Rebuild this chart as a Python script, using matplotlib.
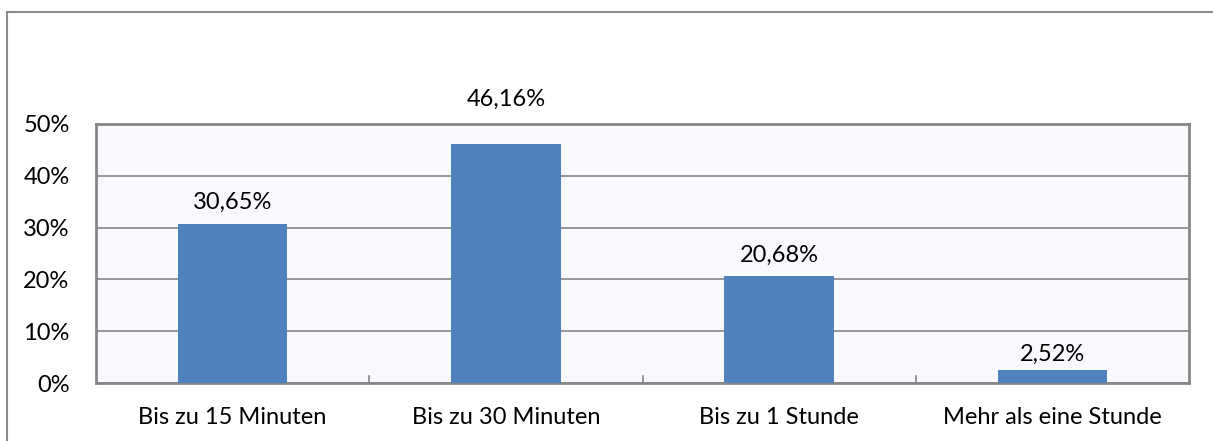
import matplotlib
matplotlib.use("Agg")
import matplotlib.pyplot as plt
from matplotlib.patches import Rectangle

categories = ["Bis zu 15 Minuten", "Bis zu 30 Minuten", "Bis zu 1 Stunde", "Mehr als eine Stunde"]
values = [30.65, 46.16, 20.68, 2.52]
labels = ["30,65%", "46,16%", "20,68%", "2,52%"]
yticks = [0, 10, 20, 30, 40, 50]
ytick_labels = ["0%", "10%", "20%", "30%", "40%", "50%"]

# style: gap (points) between bar top and label baseline
label_gap_pt = [10.8, 27.4, 10.3, 6.5]

plt.rcParams['font.family'] = ['Lato', 'DejaVu Sans']
FS = 17

W, H = 1213, 441
fig = plt.figure(figsize=(W/100, H/100), dpi=100)

# outer frame
fig.patches.append(Rectangle((7/W, -0.1), 1.2, (H-12)/H + 0.1, transform=fig.transFigure,
                             fill=False, edgecolor='#8c8c8c', linewidth=1.5))

left, right, top, bottom = 96, 1189, 124, 383
ax = fig.add_axes([left/W, 1-bottom/H, (right-left)/W, (bottom-top)/H])
ax.set_facecolor('#F7F9FD')

x = list(range(len(categories)))
ax.bar(x, values, width=0.4, color='#4F81BD', zorder=3)
for xi, v, lab, g in zip(x, values, labels, label_gap_pt):
    ax.annotate(lab, (xi, v), xytext=(0, g), textcoords='offset points',
                ha='center', va='baseline', fontsize=FS, color='#000000',
                annotation_clip=False)

ax.set_xlim(-0.5, len(categories)-0.5)
ax.set_ylim(0, 50)
ax.set_yticks(yticks)
ax.set_yticklabels(ytick_labels, fontsize=FS)
ax.set_xticks(x)
ax.set_xticklabels(categories, fontsize=FS)
ax.tick_params(axis='x', length=0, pad=17)
ax.tick_params(axis='y', length=0, pad=19)
ax.grid(axis='y', color='#868686', linewidth=1.2, zorder=0)
# category boundary ticks
for b in [0.5, 1.5, 2.5]:
    ax.plot([b, b], [0, 1.3], color='#868686', linewidth=1.2, zorder=4, clip_on=False)
for s in ax.spines.values():
    s.set_color('#868686')
    s.set_linewidth(2)

fig.savefig("out.png", dpi=100)
